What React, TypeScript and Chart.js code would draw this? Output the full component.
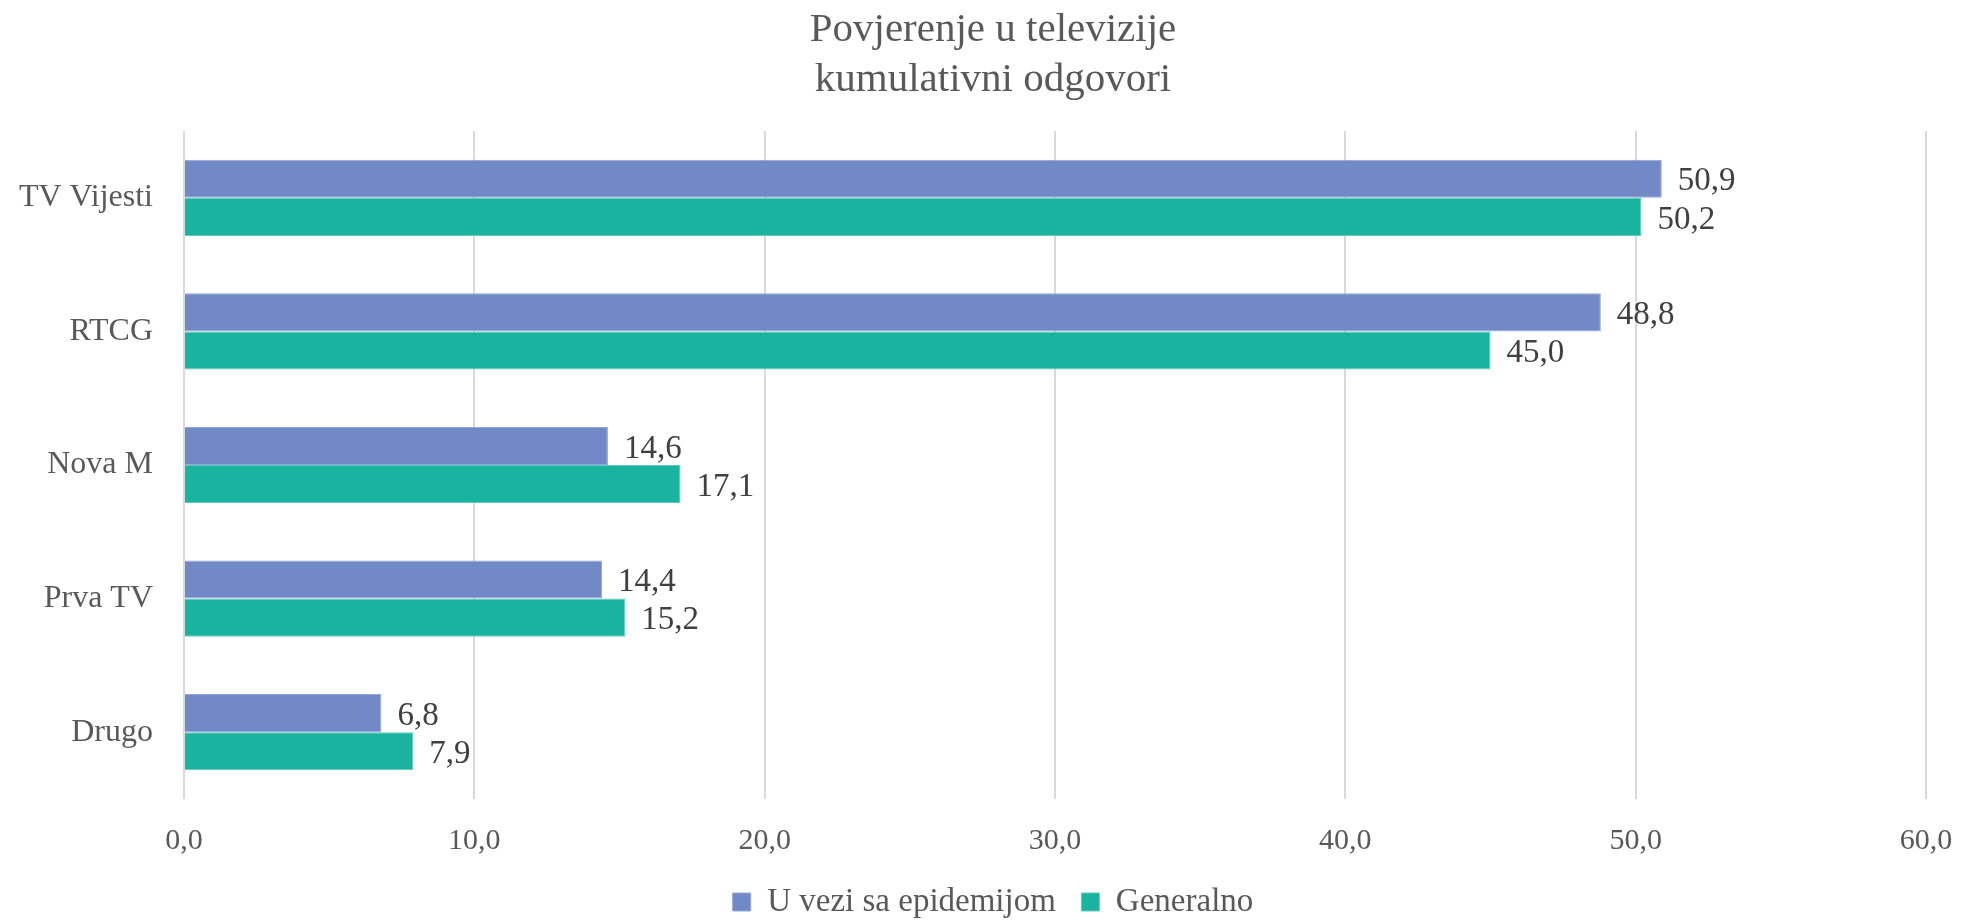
import React, { useEffect, useRef } from "react";
import { Chart, registerables } from "chart.js";

Chart.register(...registerables);

const categories = ["TV Vijesti", "RTCG", "Nova M", "Prva TV", "Drugo"];
const seriesEpidemija = [50.9, 48.8, 14.6, 14.4, 6.8];
const seriesGeneralno = [50.2, 45.0, 17.1, 15.2, 7.9];
const seriesNames = ["U vezi sa epidemijom", "Generalno"];
const titleLines = ["Povjerenje u televizije", "kumulativni odgovori"];
const xMin = 0;
const xMax = 60;
const xStep = 10;

const fmt = (v: number) => v.toFixed(1).replace(".", ",");

const FONT = "'Liberation Serif', 'DejaVu Serif', serif";

const dataLabelPlugin = {
  id: "dataLabels",
  afterDatasetsDraw(chart: any) {
    const ctx = chart.ctx;
    ctx.save();
    ctx.font = `33px ${FONT}`;
    ctx.fillStyle = "#404040";
    ctx.textAlign = "left";
    ctx.textBaseline = "middle";
    chart.data.datasets.forEach((ds: any, i: number) => {
      const meta = chart.getDatasetMeta(i);
      meta.data.forEach((el: any, j: number) => {
        ctx.fillText(fmt(ds.data[j]), el.x + 16, el.y + 3);
      });
    });
    ctx.restore();
  },
};

export default function App() {
  const canvasRef = useRef<HTMLCanvasElement | null>(null);

  useEffect(() => {
    if (!canvasRef.current) return;
    const chart = new Chart(canvasRef.current, {
      type: "bar",
      data: {
        labels: categories,
        datasets: [
          {
            label: seriesNames[0],
            data: seriesEpidemija,
            backgroundColor: "#7189C7",
            borderColor: "#93A6D8",
            borderWidth: 1,
          },
          {
            label: seriesNames[1],
            data: seriesGeneralno,
            backgroundColor: "#1AB39F",
            borderColor: "#5FCBBB",
            borderWidth: 1,
          },
        ],
      },
      options: {
        indexAxis: "y",
        responsive: false,
        animation: false,
        devicePixelRatio: 1,
        layout: { padding: { left: 60, right: 36, top: 0, bottom: -8.5 } },
        datasets: {
          bar: { categoryPercentage: 0.57, barPercentage: 1.0 },
        },
        scales: {
          x: {
            min: xMin,
            max: xMax,
            grid: { color: "#D9D9D9", lineWidth: 2, drawTicks: false },
            border: { display: false },
            ticks: {
              stepSize: xStep,
              padding: 24,
              color: "#595959",
              font: { family: FONT, size: 30 },
              callback: (v: any) => fmt(Number(v)),
            },
            afterFit: (scale: any) => {
              scale.height = 61;
              scale.paddingRight = 0;
              scale.paddingLeft = 0;
            },
          },
          y: {
            grid: { display: false, drawTicks: false },
            border: { display: false },
            ticks: {
              padding: 31,
              color: "#595959",
              font: { family: FONT, size: 32 },
            },
            afterFit: (scale: any) => {
              scale.width = 124;
              scale._computeLabelArea = () => undefined;
            },
          },
        },
        plugins: {
          title: {
            display: true,
            text: titleLines,
            color: "#595959",
            font: { family: FONT, size: 41, weight: "normal", lineHeight: 1.2 },
            padding: { top: 6, bottom: 26.6 },
          },
          legend: {
            position: "bottom",
            labels: {
              boxWidth: 18,
              boxHeight: 18,
              padding: 25.5,
              color: "#595959",
              font: { family: FONT, size: 33 },
            },
          },
          tooltip: { enabled: false },
        },
      },
      plugins: [dataLabelPlugin],
    } as any);
    return () => chart.destroy();
  }, []);

  return (
    <div
      style={{
        position: "fixed",
        left: 0,
        top: 0,
        width: 1962,
        height: 920,
        background: "#ffffff",
        overflow: "hidden",
      }}
    >
      <canvas ref={canvasRef} width={1962} height={920} />
    </div>
  );
}
